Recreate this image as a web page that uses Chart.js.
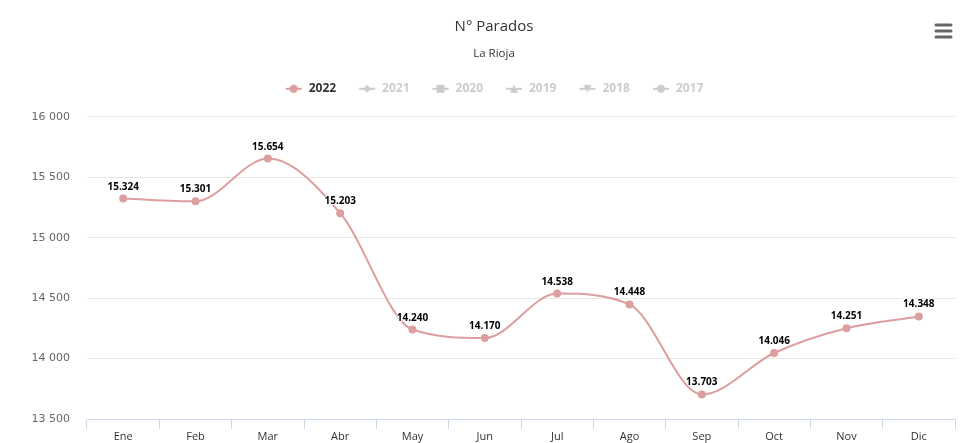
<!DOCTYPE html>
<html><head><meta charset="utf-8">
<script src="https://cdn.jsdelivr.net/npm/chart.js@4"></script>
<style>html,body{margin:0;padding:0;background:#fff}#wrap{width:970px;height:443px}</style>
</head><body><div id="wrap"><canvas id="c" width="970" height="443"></canvas></div>
<script>
const categories = ['Ene','Feb','Mar','Abr','May','Jun','Jul','Ago','Sep','Oct','Nov','Dic'];
const values2022 = [15324,15301,15654,15203,14240,14170,14538,14448,13703,14046,14251,14348];
const seriesNames = ['2022','2021','2020','2019','2018','2017'];
const yTicks = [13500,14000,14500,15000,15500,16000];

const FONT = "'Open Sans', sans-serif";
const AXFONT = "'DejaVu Sans', sans-serif";
const LINE = '#dc9e9e';

function legendIcon(style, color){
  const c = document.createElement('canvas'); c.width = 18; c.height = 12;
  const g = c.getContext('2d');
  g.strokeStyle = color; g.fillStyle = color; g.lineWidth = 2;
  g.beginPath(); g.moveTo(1,6); g.lineTo(17,6); g.stroke();
  g.beginPath();
  if(style==='circle'){ g.arc(9,6,4,0,Math.PI*2); }
  else if(style==='diamond'){ g.moveTo(9,2); g.lineTo(13,6); g.lineTo(9,10); g.lineTo(5,6); g.closePath(); }
  else if(style==='square'){ g.rect(5,2,8,8); }
  else if(style==='triangle'){ g.moveTo(9,2); g.lineTo(13,10); g.lineTo(5,10); g.closePath(); }
  else if(style==='tridown'){ g.moveTo(5,2); g.lineTo(13,2); g.lineTo(9,10); g.closePath(); }
  g.fill();
  return c;
}
const legendStyles = ['circle','diamond','square','triangle','tridown','circle'];

const fmt = v => String(v).replace(/\B(?=(\d{3})+(?!\d))/g, '.');
const fmtAxis = v => String(v).replace(/\B(?=(\d{3})+(?!\d))/g, ' ');

const dataLabels = {
  id:'dataLabels',
  afterDatasetsDraw(chart){
    const ctx = chart.ctx; const meta = chart.getDatasetMeta(0);
    ctx.save();
    ctx.font = "bold 10px " + FONT; ctx.textAlign='center'; ctx.textBaseline='alphabetic';
    ctx.lineJoin='round';
    meta.data.forEach((pt,i)=>{
      const t = fmt(values2022[i]);
      ctx.strokeStyle='#fff'; ctx.lineWidth=2; ctx.strokeText(t, pt.x, pt.y-9);
      ctx.fillStyle='#000'; ctx.fillText(t, pt.x, pt.y-9);
    });
    ctx.restore();
  }
};
// extra space under the legend and a small horizontal shift of the header blocks
const headerTweaks = {
  id:'headerTweaks',
  beforeLayout(chart){
    (chart.boxes || []).forEach(box=>{
      if(box.axis || box._tweaked) return;
      box._tweaked = true;
      const d = box.draw.bind(box);
      box.draw = function(a){ chart.ctx.save(); chart.ctx.translate(9,0); d(a); chart.ctx.restore(); };
      if(box.legendItems !== undefined || box === chart.legend){
        const f = box.fit.bind(box);
        box.fit = function(){ f(); this.height += 12; };
      }
    });
  }
};
const menuIcon = {
  id:'menuIcon',
  afterDraw(chart){
    const ctx = chart.ctx; ctx.save();
    ctx.strokeStyle='#666'; ctx.lineWidth=3; ctx.lineCap='round';
    [25,31,37].forEach(y=>{ctx.beginPath(); ctx.moveTo(936,y); ctx.lineTo(951,y); ctx.stroke();});
    ctx.restore();
  }
};

new Chart(document.getElementById('c'), {
  type:'line',
  data:{
    labels: categories,
    datasets:[{
      label: seriesNames[0], data: values2022,
      borderColor: LINE, backgroundColor: LINE, borderWidth: 2,
      pointRadius: 4, pointHoverRadius: 4, pointBackgroundColor: LINE, pointBorderWidth: 0,
      cubicInterpolationMode:'monotone', fill:false
    }]
  },
  plugins:[headerTweaks, dataLabels, menuIcon],
  options:{
    responsive:false, animation:false, devicePixelRatio:1,
    layout:{padding:{left:15,right:15,top:0,bottom:0}},
    plugins:{
      tooltip:{enabled:false},
      title:{display:true, text:'N° Parados', color:'#333', font:{family:FONT,size:15,weight:'normal'}, padding:{top:18,bottom:10}},
      subtitle:{display:true, text:'La Rioja', color:'#333', font:{family:FONT,size:11.5,weight:'normal'}, padding:{top:1,bottom:0}},
      legend:{
        display:true, position:'top',
        labels:{
          usePointStyle:true, pointStyleWidth:18, boxHeight:12, padding:22,
          font:{family:FONT,size:12,weight:'bold'},
          generateLabels(){
            return seriesNames.map((n,i)=>({
              text:n, fontColor: i===0 ? '#333' : '#ccc',
              pointStyle: legendIcon(legendStyles[i], i===0 ? LINE : '#ccc'),
              hidden:false, lineWidth:0, strokeStyle:'transparent', fillStyle:'transparent', datasetIndex: i===0?0:undefined
            }));
          }
        },
        onClick(){}
      }
    },
    scales:{
      x:{
        offset:true,
        afterFit(ax){ ax.height = 24; },
        grid:{offset:true, drawOnChartArea:false, color:'#ccd6eb', tickLength:10, lineWidth:1},
        border:{display:true, color:'#ccd6eb'},
        ticks:{color:'#333', font:{family:FONT,size:11}, padding:1, maxRotation:0}
      },
      y:{
        min:13500, max:16000,
        afterBuildTicks(ax){ ax.ticks = yTicks.map(v=>({value:v})); },
        afterFit(ax){ ax.width = 72; },
        grid:{color:'#e6e6e6', drawTicks:false, lineWidth:1},
        border:{display:false},
        ticks:{color:'#666', font:{family:AXFONT,size:11}, padding:17, callback:v=>fmtAxis(v)}
      }
    }
  }
});
</script></body></html>
